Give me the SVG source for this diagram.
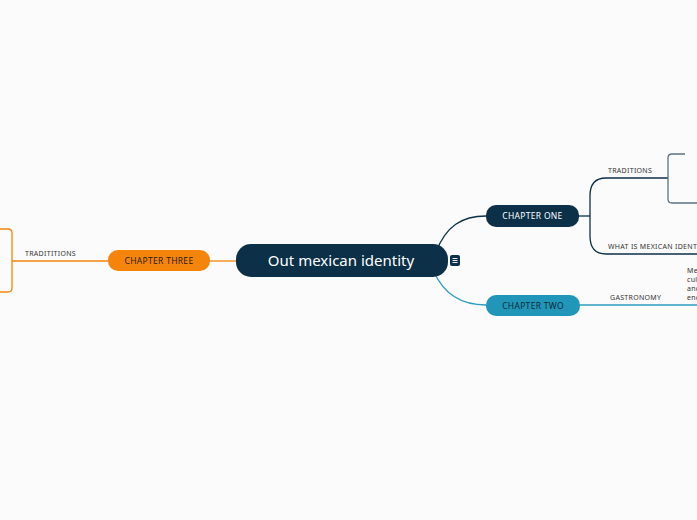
<svg xmlns="http://www.w3.org/2000/svg" width="697" height="520" viewBox="0 0 697 520">
<style>
.bg{fill:#fbfbfb}
.t{font-family:"Noto Sans","Liberation Sans",sans-serif}
.lbl{font-family:"Noto Sans","Liberation Sans",sans-serif;font-size:7px;fill:#333;letter-spacing:0.3px}
.ln{fill:none;stroke-width:1.3}
.navy{stroke:#0b3047}
.teal{stroke:#2b9cc0}
.orange{stroke:#f5850a}
.slate{stroke:#5b7384}
</style>
<rect class="bg" x="0" y="0" width="697" height="520"/>
<g id="connectors">
  <path class="ln navy" d="M436 252 C446 226 462 216 486 216"/>
  <path class="ln teal" d="M434 272 C444 294 462 305 486 305"/>
  <path class="ln orange" d="M210 261 H236"/>
  <path class="ln navy" d="M579 216 H590"/>
  <path class="ln navy" d="M606 178 Q590 178 590 196 V236 Q590 254 606 254 H697"/>
  <path class="ln navy" d="M606 178 H668"/>
  <path class="ln slate" d="M685 154 H672 Q668 154 668 158 V199 Q668 203 672 203 H697"/>
  <path class="ln teal" d="M580 305 H697"/>
  <path class="ln orange" d="M108 261 H12"/>
  <path class="ln orange" d="M0 229 H8 Q12 229 12 233 V288 Q12 292 8 292 H0"/>
</g>
<g id="central">
  <rect x="236" y="244" width="212" height="33" rx="15" fill="#0b3047"/>
  <text class="t" x="341" y="266" font-size="15" fill="#ffffff" text-anchor="middle">Out mexican identity</text>
  <rect x="450" y="255" width="10" height="11" rx="2" fill="#0b3047"/>
  <path d="M452.5 258.5 H457.5 M452.5 260.5 H457.5 M452.5 262.5 H457.5" stroke="#ffffff" stroke-width="0.9"/>
</g>
<g id="chapter-one">
  <rect x="486" y="205" width="93" height="22" rx="10" fill="#0b3047"/>
  <text class="t" x="532.5" y="219" font-size="8.5" fill="#ffffff" text-anchor="middle" letter-spacing="0.3">CHAPTER ONE</text>
</g>
<g id="chapter-two">
  <rect x="486" y="295" width="94" height="21" rx="10" fill="#2196b9"/>
  <text class="t" x="533" y="309" font-size="8.5" fill="#0f2a3a" text-anchor="middle" letter-spacing="0.3">CHAPTER TWO</text>
</g>
<g id="chapter-three">
  <rect x="108" y="250" width="102" height="21" rx="10" fill="#f5850a"/>
  <text class="t" x="159" y="264" font-size="8.5" fill="#2a1a0a" text-anchor="middle" letter-spacing="0.3">CHAPTER THREE</text>
</g>
<g id="traditions">
  <text class="lbl" x="608" y="173">TRADITIONS</text>
</g>
<g id="what-is-mexican-identity">
  <text class="lbl" x="608" y="249">WHAT IS MEXICAN IDENTITY</text>
</g>
<g id="gastronomy">
  <text class="lbl" x="610" y="300">GASTRONOMY</text>
</g>
<g id="gastronomy-note">
  <text class="lbl" x="687" y="273">Me</text>
  <text class="lbl" x="687" y="282">cul</text>
  <text class="lbl" x="687" y="291">and</text>
  <text class="lbl" x="687" y="300">enc</text>
</g>
<g id="tradititions">
  <text class="lbl" x="25" y="256">TRADITITIONS</text>
</g>
</svg>
